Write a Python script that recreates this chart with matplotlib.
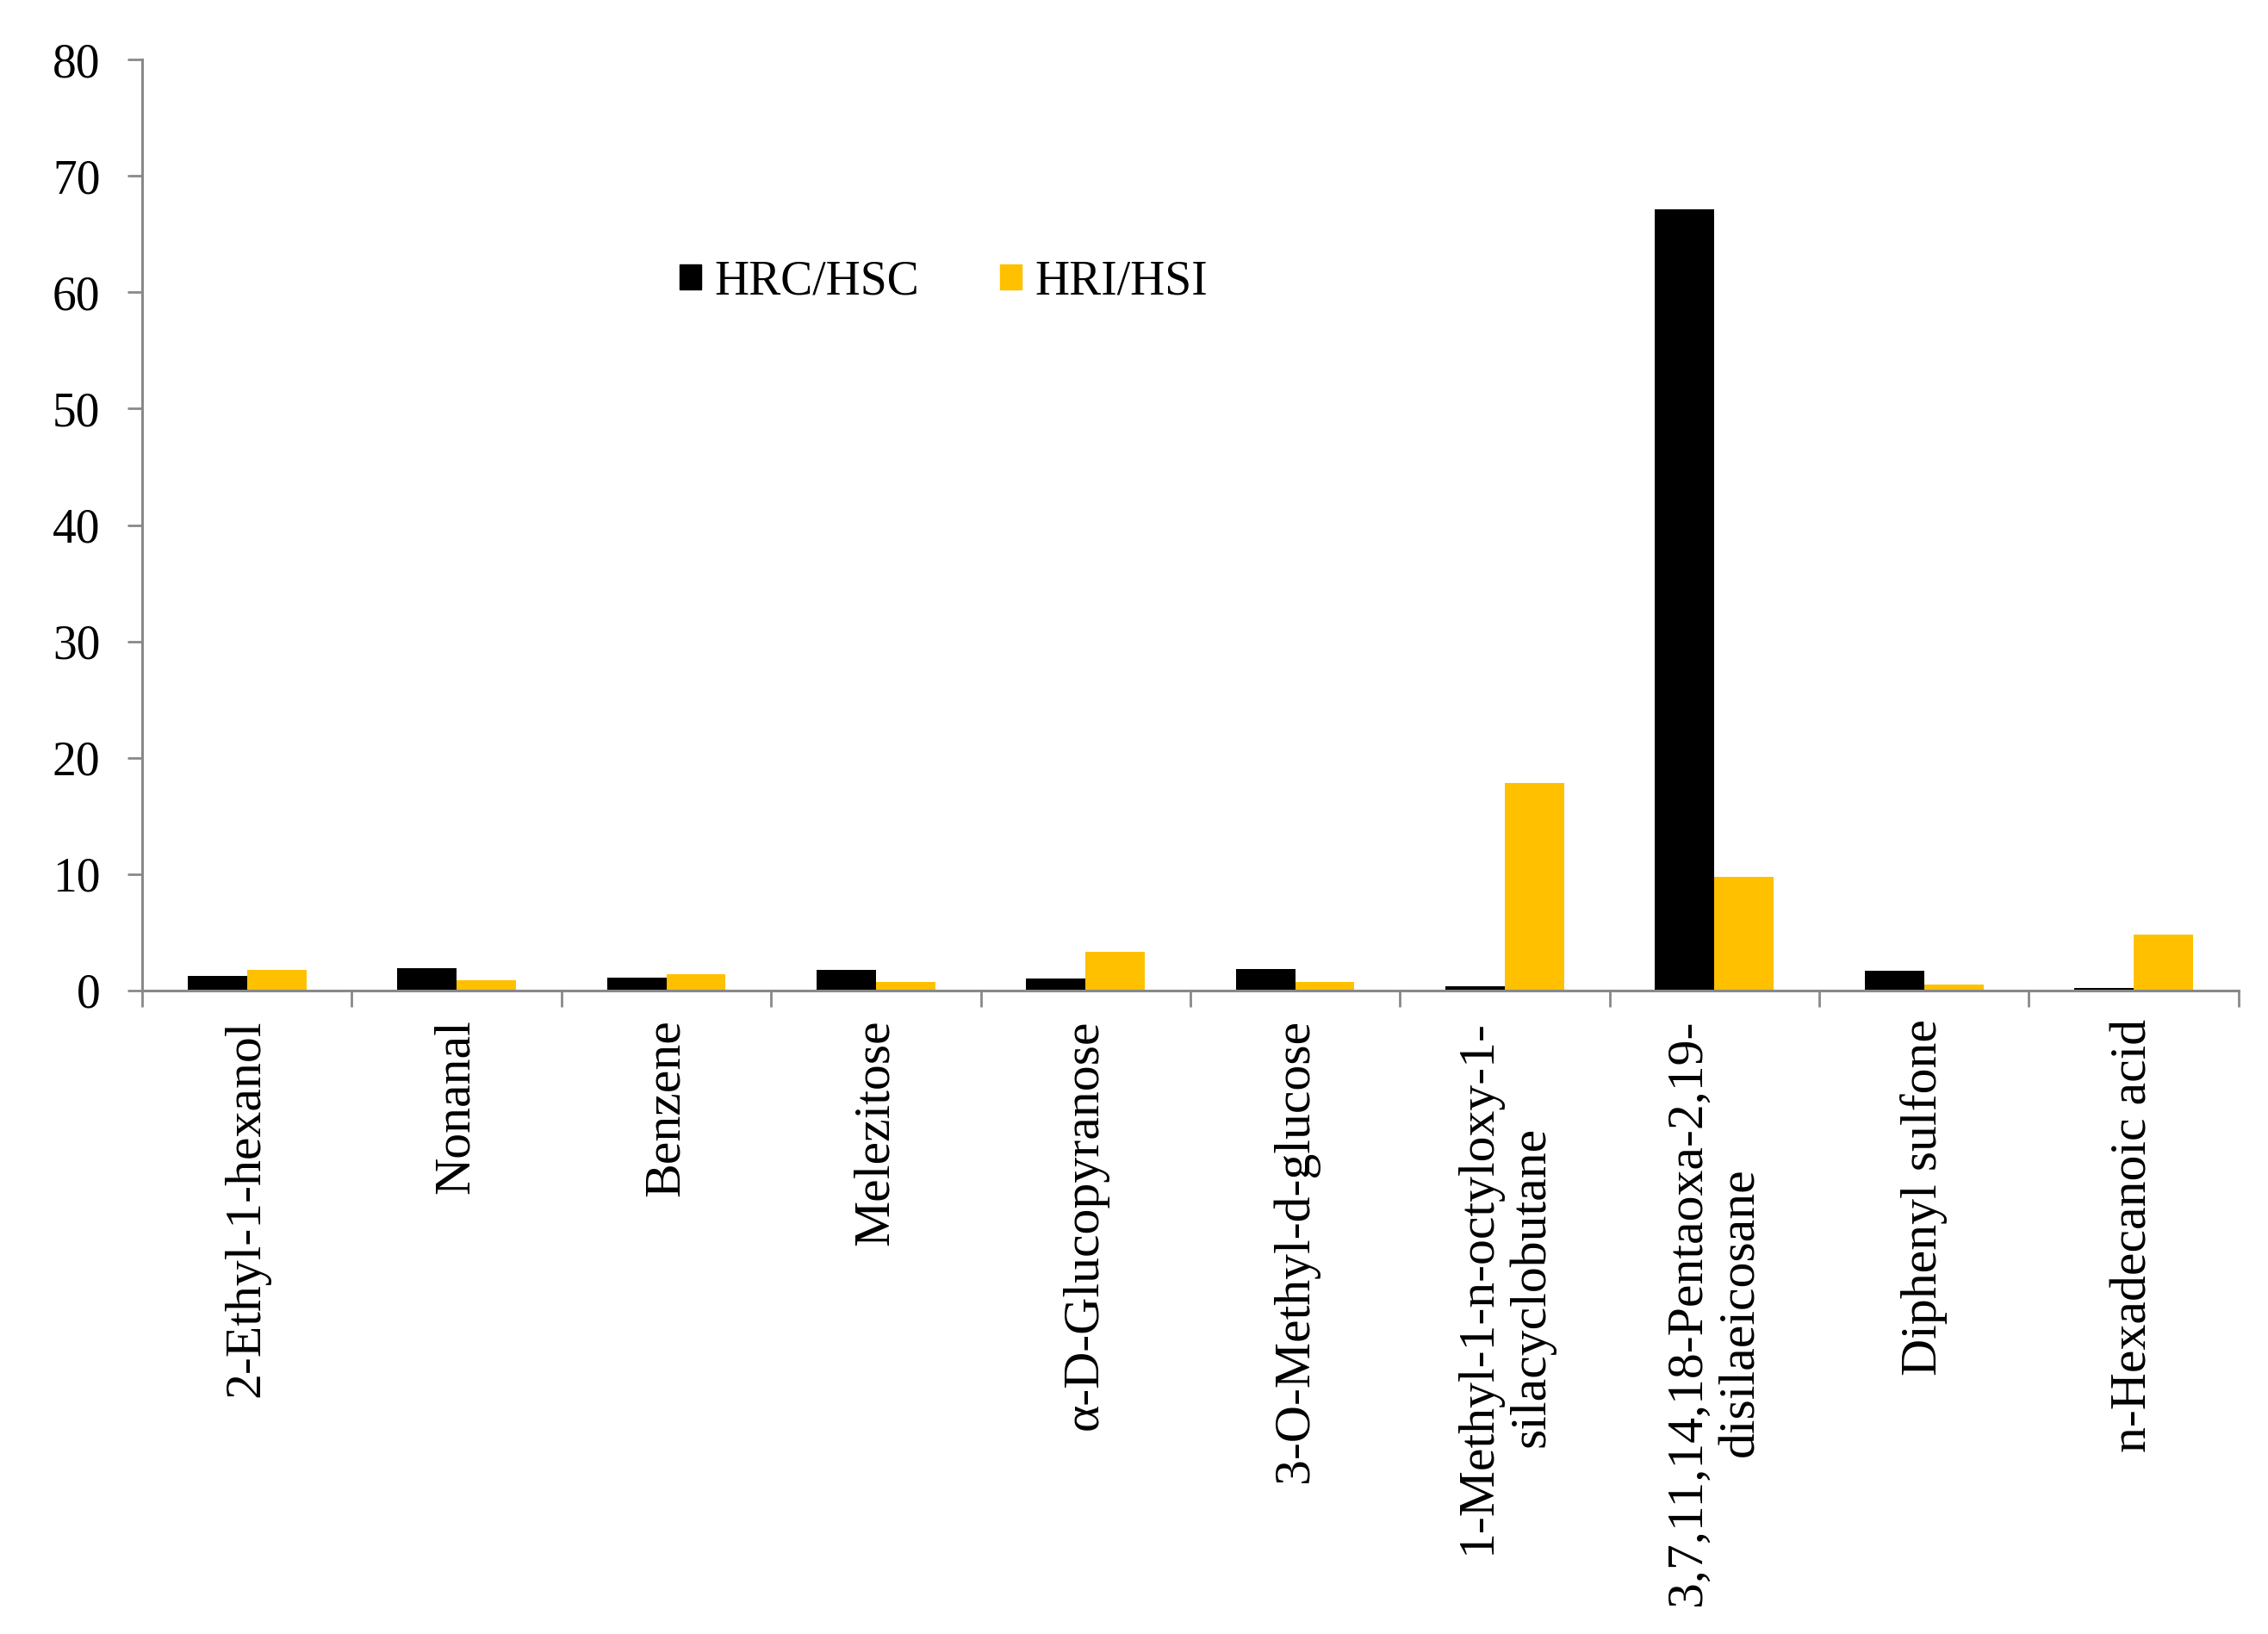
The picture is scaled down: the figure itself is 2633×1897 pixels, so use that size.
import numpy as np
import matplotlib
matplotlib.use("Agg")
import matplotlib.pyplot as plt
from matplotlib.patches import Patch

categories = ["2-Ethyl-1-hexanol", "Nonanal", "Benzene", "Melezitose",
              "\u03b1-D-Glucopyranose", "3-O-Methyl-d-glucose",
              "1-Methyl-1-n-octyloxy-1-\nsilacyclobutane",
              "3,7,11,14,18-Pentaoxa-2,19-\ndisilaeicosane",
              "Diphenyl sulfone", "n-Hexadecanoic acid"]
hrc_hsc = [1.29, 1.89, 1.14, 1.74, 1.0, 1.88, 0.4, 67.1, 1.73, 0.25]
hri_hsi = [1.74, 0.85, 1.44, 0.77, 3.31, 0.77, 17.8, 9.73, 0.54, 4.84]

plt.rcParams['font.family'] = ['Liberation Serif', 'DejaVu Serif']

fig = plt.figure(figsize=(26.33, 18.97), dpi=100)
ax = fig.add_axes([0.0627, 0.3938, 0.9243, 0.5698])

x = np.arange(len(categories))
w = 0.283
ax.bar(x - w / 2, hrc_hsc, w, color='black', label='HRC/HSC')
ax.bar(x + w / 2, hri_hsi, w, color='#FFC000', label='HRI/HSI')

ax.set_xlim(-0.5, len(categories) - 0.5)
ax.set_ylim(0, 80)
ax.set_yticks(np.arange(0, 81, 10))

grey = '#898989'
for s in ['top', 'right']:
    ax.spines[s].set_visible(False)
for s in ['left', 'bottom']:
    ax.spines[s].set_color(grey)
    ax.spines[s].set_linewidth(2.2)

ax.tick_params(axis='y', direction='out', length=12, width=2, color=grey,
               labelsize=40, pad=23)
ax.set_xticks(x)
ax.set_xticklabels(categories, rotation=90, fontsize=43, ha='center',
                   va='top', multialignment='center')
ax.tick_params(axis='x', which='major', length=0, pad=24)
ax.set_xticks(np.arange(-0.5, len(categories), 1), minor=True)
ax.tick_params(axis='x', which='minor', direction='out', length=14, width=2,
               color=grey)

handles = [Patch(color='black'), Patch(color='#FFC000')]
fig.legend(handles, ['HRC/HSC', 'HRI/HSI'], loc='center left',
           bbox_to_anchor=(0.2997, 0.8275), ncol=2, frameon=False,
           fontsize=40, handlelength=0.45, handleheight=0.45,
           handletextpad=0.27, columnspacing=1.7, borderpad=0,
           borderaxespad=0)

fig.savefig("out.png", dpi=100, facecolor='white')
